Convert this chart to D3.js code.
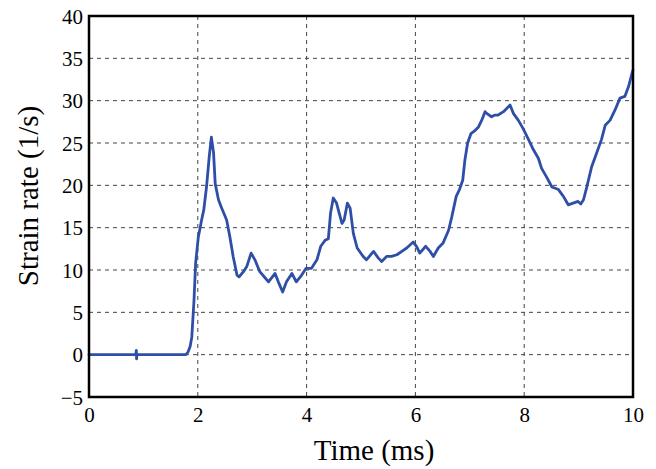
<!DOCTYPE html>
<html>
<head>
<meta charset="utf-8">
<script src="https://cdn.jsdelivr.net/npm/d3@7"></script>
<style>
  html, body { margin: 0; padding: 0; background: #fff; }
  svg { display: block; }
  svg text { font-family: "Liberation Serif", "Times New Roman", serif !important; fill: #000; }
</style>
</head>
<body>
<svg id="chart" width="656" height="469"></svg>
<script>
// Measured strain rate history
const timeMs = [0, 0.86, 0.87, 0.875, 0.88, 0.89, 1.78, 1.82, 1.86, 1.89, 1.93, 1.96, 2.01, 2.07, 2.11, 2.16, 2.21, 2.25, 2.29, 2.32, 2.38, 2.44, 2.53, 2.59, 2.65, 2.72, 2.76, 2.84, 2.90, 2.98, 3.05, 3.14, 3.22, 3.30, 3.42, 3.48, 3.56, 3.63, 3.73, 3.81, 3.91, 3.99, 4.09, 4.19, 4.26, 4.34, 4.40, 4.44, 4.49, 4.55, 4.65, 4.69, 4.75, 4.80, 4.86, 4.93, 5.04, 5.10, 5.23, 5.32, 5.38, 5.47, 5.56, 5.66, 5.75, 5.84, 5.96, 6.02, 6.08, 6.19, 6.27, 6.33, 6.42, 6.51, 6.61, 6.67, 6.75, 6.81, 6.87, 6.91, 6.96, 7.02, 7.10, 7.16, 7.22, 7.28, 7.31, 7.40, 7.46, 7.52, 7.62, 7.74, 7.80, 7.89, 7.98, 8.08, 8.17, 8.26, 8.32, 8.41, 8.51, 8.63, 8.72, 8.81, 8.90, 8.99, 9.04, 9.09, 9.15, 9.24, 9.33, 9.42, 9.49, 9.58, 9.67, 9.76, 9.85, 9.92, 9.98, 10.0];
const strainRate = [0, 0, 0.5, -0.5, 0, 0, 0, 0.3, 1.0, 2.1, 6.4, 10.8, 13.9, 15.9, 17.1, 19.8, 23.4, 25.7, 23.8, 20.2, 18.3, 17.3, 15.9, 13.9, 11.6, 9.4, 9.2, 9.8, 10.4, 12.0, 11.2, 9.8, 9.2, 8.6, 9.6, 8.6, 7.4, 8.6, 9.6, 8.6, 9.4, 10.2, 10.2, 11.2, 12.8, 13.5, 13.7, 16.7, 18.5, 17.9, 15.5, 15.9, 17.9, 17.3, 14.3, 12.6, 11.6, 11.2, 12.2, 11.4, 11.0, 11.6, 11.6, 11.8, 12.2, 12.6, 13.3, 12.8, 12.0, 12.8, 12.2, 11.6, 12.6, 13.2, 14.7, 16.3, 18.7, 19.5, 20.6, 23.0, 25.0, 26.1, 26.5, 26.9, 27.7, 28.7, 28.5, 28.1, 28.3, 28.3, 28.7, 29.5, 28.5, 27.7, 26.7, 25.4, 24.2, 23.2, 22.0, 21.0, 19.8, 19.5, 18.7, 17.7, 17.9, 18.1, 17.8, 18.3, 19.8, 22.2, 23.8, 25.4, 27.1, 27.7, 28.9, 30.3, 30.5, 31.7, 33.2, 33.6];

const xTicks = [0, 2, 4, 6, 8, 10];
const yTicks = [-5, 0, 5, 10, 15, 20, 25, 30, 35, 40];
const xLabel = "Time (ms)";
const yLabel = "Strain rate (1/s)";

const W = 656, H = 469;
const margin = { top: 16, right: 23, bottom: 72, left: 89 };
const iw = W - margin.left - margin.right;
const ih = H - margin.top - margin.bottom;
const serif = "'Liberation Serif', 'Times New Roman', serif";

const svg = d3.select("#chart");
const g = svg.append("g").attr("transform", `translate(${margin.left},${margin.top})`);

const x = d3.scaleLinear().domain([0, 10]).range([0, iw]);
const y = d3.scaleLinear().domain([-5, 40]).range([ih, 0]);

// dashed grid
const gridStyle = sel => sel.attr("stroke", "#444").attr("stroke-width", 1)
  .attr("stroke-dasharray", "4,4");
g.append("g").selectAll("line")
  .data(xTicks.filter(d => d > 0 && d < 10))
  .join("line")
  .attr("x1", d => x(d)).attr("x2", d => x(d))
  .attr("y1", 0).attr("y2", ih)
  .call(gridStyle);
g.append("g").selectAll("line")
  .data(yTicks.filter(d => d > -5 && d < 40))
  .join("line")
  .attr("x1", 0).attr("x2", iw)
  .attr("y1", d => y(d)).attr("y2", d => y(d))
  .call(gridStyle);

// axes (labels only, frame drawn separately)
const xAxis = g.append("g")
  .attr("transform", `translate(0,${ih})`)
  .call(d3.axisBottom(x).tickValues(xTicks).tickSize(0).tickPadding(10).tickFormat(d3.format("d")));
const yAxis = g.append("g")
  .call(d3.axisLeft(y).tickValues(yTicks).tickSize(0).tickPadding(6)
    .tickFormat(d => d < 0 ? "\u2212" + Math.abs(d) : String(d)));
[xAxis, yAxis].forEach(a => {
  a.attr("font-family", serif).attr("font-size", 21);
  a.select(".domain").remove();
  a.selectAll("text").attr("font-family", serif).attr("font-size", 21).attr("fill", "#000");
});
yAxis.selectAll("text").attr("dy", "0.34em");
xAxis.selectAll("text").attr("dy", "0.71em");

// data line
const pts = timeMs.map((t, i) => [t, strainRate[i]]);
g.append("path")
  .datum(pts)
  .attr("fill", "none")
  .attr("stroke", "#2f4fa7")
  .attr("stroke-width", 2.8)
  .attr("stroke-linejoin", "round")
  .attr("stroke-linecap", "round")
  .attr("d", d3.line().x(d => x(d[0])).y(d => y(d[1])));

// frame
g.append("rect")
  .attr("x", 0).attr("y", 0).attr("width", iw).attr("height", ih)
  .attr("fill", "none").attr("stroke", "#000").attr("stroke-width", 2.5);

// axis titles
svg.append("text")
  .attr("x", 374).attr("y", 460)
  .attr("text-anchor", "middle")
  .attr("font-family", serif)
  .attr("font-size", 29)
  .text(xLabel);
svg.append("text")
  .attr("transform", "translate(38,196) rotate(-90)")
  .attr("text-anchor", "middle")
  .attr("font-family", serif)
  .attr("font-size", 29)
  .text(yLabel);
</script>
</body>
</html>
